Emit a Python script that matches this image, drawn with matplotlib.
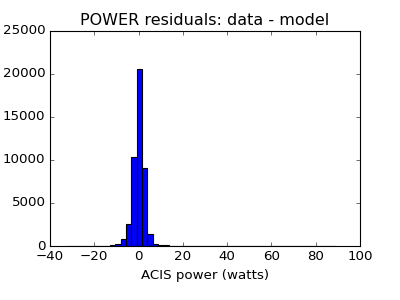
import numpy as np
import matplotlib
matplotlib.use("Agg")
import matplotlib.pyplot as plt

# histogram of POWER residuals (data - model), 50 bins
bin_lo = -32.5
bin_hi = 89.2
counts = [
    3, 2, 4, 5, 8, 12, 20, 40,
    100, 250, 800, 2550, 10300, 20600, 9050, 1400, 250, 100, 60,
    35, 25, 20, 15, 12, 10, 8, 8, 6, 6, 5, 5, 4, 4, 3, 3, 3, 2, 2, 2,
    2, 2, 1, 1, 1, 1, 1, 1, 1, 1, 1,
]

plt.style.use("classic")
fig = plt.figure(figsize=(5, 3.75), dpi=80)
ax = fig.add_subplot(111)
fig.subplots_adjust(left=0.125, right=0.9, bottom=0.18, top=0.897)

edges = np.linspace(bin_lo, bin_hi, len(counts) + 1)
centers = 0.5 * (edges[:-1] + edges[1:])
ax.hist(centers, bins=edges, weights=counts, color="b", edgecolor="k")

ax.set_xlim(-40, 100)
ax.set_ylim(0, 25000)
ax.set_xlabel("ACIS power (watts)")
ax.set_title("POWER residuals: data - model")

fig.savefig("out.png", dpi=80)
